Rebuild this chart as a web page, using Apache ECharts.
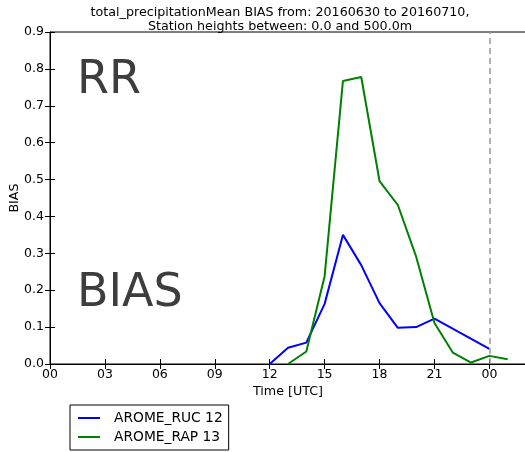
<!DOCTYPE html>
<html><head><meta charset="utf-8">
<script src="https://cdn.jsdelivr.net/npm/echarts@6/dist/echarts.min.js"></script>
<style>html,body{margin:0;padding:0;background:#fff}#c{width:525px;height:452px}</style>
</head><body><div id="c"></div>
<script>
var hoursRUC = [12, 13, 14, 15, 16, 17, 18, 19, 20, 21, 24];
var biasRUC = [0.0, 0.044, 0.058, 0.163, 0.350, 0.268, 0.165, 0.098, 0.100, 0.123, 0.041];
var hoursRAP = [13, 14, 15, 16, 17, 18, 19, 20, 21, 22, 23, 24, 25];
var biasRAP = [0.0, 0.034, 0.238, 0.767, 0.778, 0.496, 0.431, 0.291, 0.111, 0.031, 0.004, 0.022, 0.013];
var seriesNames = ['AROME_RUC 12', 'AROME_RAP 13'];
var titleLines = ['total_precipitationMean BIAS from: 20160630 to 20160710,', 'Station heights between: 0.0 and 500.0m'];
var yTicks = [0, 0.1, 0.2, 0.3, 0.4, 0.5, 0.6, 0.7, 0.8, 0.9];

function pairs(xs, ys){ return xs.map(function(x,i){ return [x, ys[i]]; }); }
var FONT = 'DejaVu Sans';
var chart = echarts.init(document.getElementById('c'));
chart.setOption({
  animation: false,
  textStyle: {fontFamily: FONT},
  title: {
    text: titleLines.join('\n'),
    left: 275, textAlign: 'center', top: 1,
    textStyle: {fontFamily: FONT, fontSize: 12.7, fontWeight: 'normal', color: '#000', lineHeight: 14}
  },
  grid: {left: 50, right: -1, top: 32, bottom: 88, show: true, borderColor: '#000', borderWidth: 1,
    backgroundColor: 'transparent', containLabel: false, outerBoundsMode: 'none'},
  legend: {
    orient: 'vertical', left: 70, top: 405,
    data: seriesNames,
    icon: 'rect', itemWidth: 22, itemHeight: 2, itemGap: 5,
    padding: [6, 6, 6, 8],
    borderColor: '#000', borderWidth: 1,
    textStyle: {fontFamily: FONT, fontSize: 13.8, color: '#000', padding: [0,0,0,9]}
  },
  xAxis: [{
    type: 'value', min: 0, max: 26, interval: 3,
    name: 'Time [UTC]', nameLocation: 'middle', nameGap: 21, nameMoveOverlap: false,
    nameTextStyle: {fontFamily: FONT, fontSize: 12.7, color: '#000'},
    axisLine: {lineStyle: {color: '#000', width: 1}},
    axisTick: {inside: true, length: 5, lineStyle: {color: '#000'}},
    axisLabel: {fontFamily: FONT, fontSize: 12.5, color: '#000', margin: 4, showMaxLabel: false,
      formatter: function(v){ if (v > 24) return ''; var h = v % 24; return (h < 10 ? '0' : '') + h; }},
    splitLine: {show: false}
  }, {
    type: 'value', position: 'top', min: 0, max: 26, interval: 3,
    axisLine: {show: false},
    axisTick: {inside: true, length: 5, lineStyle: {color: '#000'}},
    axisLabel: {show: false}, splitLine: {show: false}
  }],
  yAxis: [{
    type: 'value', min: 0, max: 0.9, interval: 0.1,
    name: 'BIAS', nameLocation: 'middle', nameGap: 29, nameMoveOverlap: false,
    nameTextStyle: {fontFamily: FONT, fontSize: 12.7, color: '#000'},
    axisLine: {show: true, lineStyle: {color: '#000', width: 1}},
    axisTick: {show: true, inside: true, length: 5, lineStyle: {color: '#000'}},
    axisLabel: {fontFamily: FONT, fontSize: 12.5, color: '#000', margin: 6,
      formatter: function(v){ return v.toFixed(1); }},
    splitLine: {show: false}
  }, {
    type: 'value', position: 'right', min: 0, max: 0.9, interval: 0.1,
    axisLine: {show: false},
    axisTick: {show: true, inside: true, length: 5, lineStyle: {color: '#000'}},
    axisLabel: {show: false}, splitLine: {show: false}
  }],
  graphic: [
    {type: 'text', left: 77, top: 58, style: {text: 'RR', font: '46px "DejaVu Sans"', fill: '#3d3d3d'}},
    {type: 'text', left: 77, top: 271, style: {text: 'BIAS', font: '46px "DejaVu Sans"', fill: '#3d3d3d'}}
  ],
  series: [{
    name: seriesNames[0], type: 'line', data: pairs(hoursRUC, biasRUC),
    symbol: 'none', lineStyle: {color: '#0000ff', width: 2}, itemStyle: {color: '#0000ff'},
    markLine: {silent: true, symbol: 'none', label: {show: false},
      lineStyle: {color: '#999', type: [6, 4], width: 1.5}, data: [{xAxis: 24}]}
  }, {
    name: seriesNames[1], type: 'line', data: pairs(hoursRAP, biasRAP),
    symbol: 'none', lineStyle: {color: '#008000', width: 2}, itemStyle: {color: '#008000'}
  }]
});
</script></body></html>
